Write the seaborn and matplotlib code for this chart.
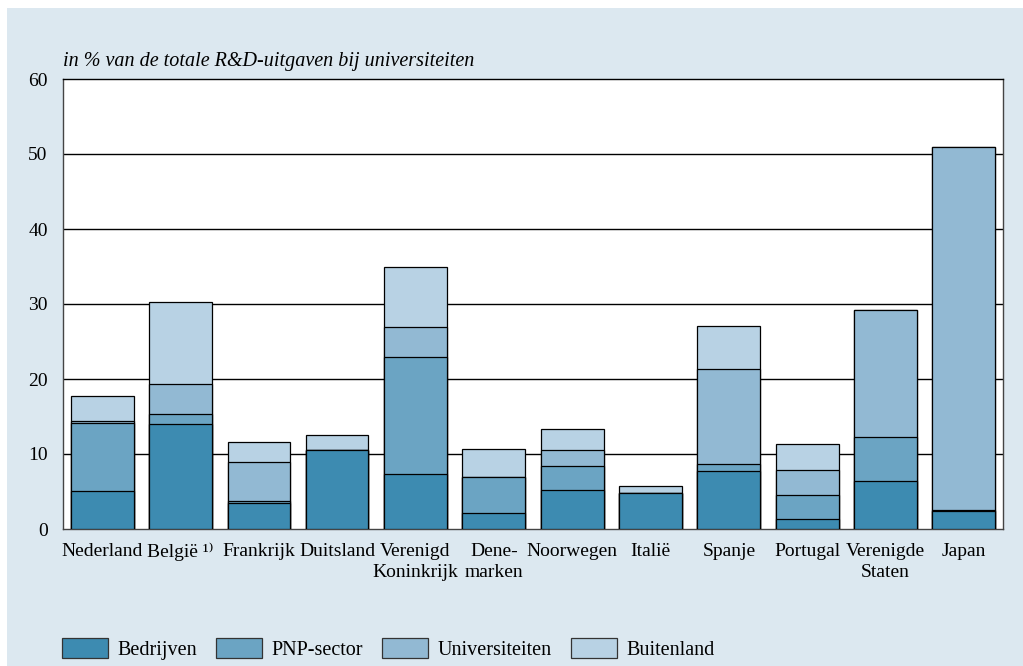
import pandas as pd
import numpy as np
import matplotlib.pyplot as plt
import seaborn as sns
from matplotlib.patches import Patch, Rectangle

# data (% of total university R&D spend)
landen = ['Nederland', 'België ¹⁾', 'Frankrijk', 'Duitsland', 'Verenigd\nKoninkrijk',
          'Dene-\nmarken', 'Noorwegen', 'Italië', 'Spanje', 'Portugal',
          'Verenigde\nStaten', 'Japan']
bedrijven = [5.1, 14.0, 3.5, 10.6, 7.3, 2.1, 5.2, 4.85, 7.7, 1.3, 6.35, 2.45]
pnp = [9.0, 1.3, 0.25, 0.0, 15.6, 4.9, 3.2, 0.0, 1.0, 3.2, 5.9, 0.15]
universiteiten = [0.3, 4.1, 5.15, 0.0, 4.1, 0.0, 2.1, 0.0, 12.6, 3.4, 16.9, 48.3]
buitenland = [3.4, 10.9, 2.7, 2.0, 7.9, 3.7, 2.9, 0.9, 5.8, 3.4, 0.0, 0.0]

series = ['Bedrijven', 'PNP-sector', 'Universiteiten', 'Buitenland']
kleuren = ['#3d8bb1', '#6ba4c3', '#92b9d3', '#b8d2e4']
bg = '#dce8f0'

df = pd.DataFrame({'land': landen, 'Bedrijven': bedrijven, 'PNP-sector': pnp,
                   'Universiteiten': universiteiten, 'Buitenland': buitenland})
cum = df[series].cumsum(axis=1)

sns.set_theme(style='white')
plt.rcParams['font.family'] = ['Liberation Serif', 'DejaVu Serif']
plt.rcParams['text.color'] = 'black'

fs = 14.5

fig = plt.figure(figsize=(10.23, 6.66), dpi=100, facecolor='white')
fig.patches.append(Rectangle((7 / 1023, 0), 1, 1 - 8 / 666, transform=fig.transFigure,
                             facecolor=bg, edgecolor='none', zorder=-5))
ax = fig.add_axes([63 / 1023, 1 - 529 / 666, 940 / 1023, 450 / 666])
ax.set_facecolor('white')

# stacked bars: draw cumulative totals from the top series down
for s, c in reversed(list(zip(series, kleuren))):
    sns.barplot(x=df['land'], y=cum[s], color=c, width=0.8, edgecolor='black',
                linewidth=0.9, saturation=1, ax=ax, zorder=3)

ax.set_ylim(0, 60)
ax.set_xlim(-0.5, 11.5)
ax.set_yticks(range(0, 61, 10))
for v in range(10, 60, 10):
    ax.axhline(v, color='black', lw=1.0, zorder=1)
for sp in ax.spines.values():
    sp.set_color('#444444')
    sp.set_linewidth(1.0)
ax.spines['top'].set_color('black')
ax.set_xlabel('')
ax.set_ylabel('')
ax.tick_params(axis='both', length=0, labelsize=14, colors='black')
ax.tick_params(axis='y', pad=11)
ax.tick_params(axis='x', pad=10)
for lbl in ax.get_xticklabels():
    lbl.set_linespacing(1.3)

fig.text(63 / 1023, 1 - 66 / 666, 'in % van de totale R&D-uitgaven bij universiteiten',
         fontsize=fs, fontstyle='italic', ha='left', va='baseline', color='black')

handles = [Patch(facecolor=c, edgecolor='#333333', linewidth=0.9, label=s)
           for s, c in zip(series, kleuren)]
fig.legend(handles=handles, loc='lower left', bbox_to_anchor=(62 / 1023, 1 - 660 / 666),
           ncol=4, frameon=False, fontsize=fs, handlelength=2.3, handleheight=1.15,
           handletextpad=0.45, columnspacing=0.95, borderpad=0, borderaxespad=0)

plt.savefig('out.png', dpi=100, facecolor='white')
